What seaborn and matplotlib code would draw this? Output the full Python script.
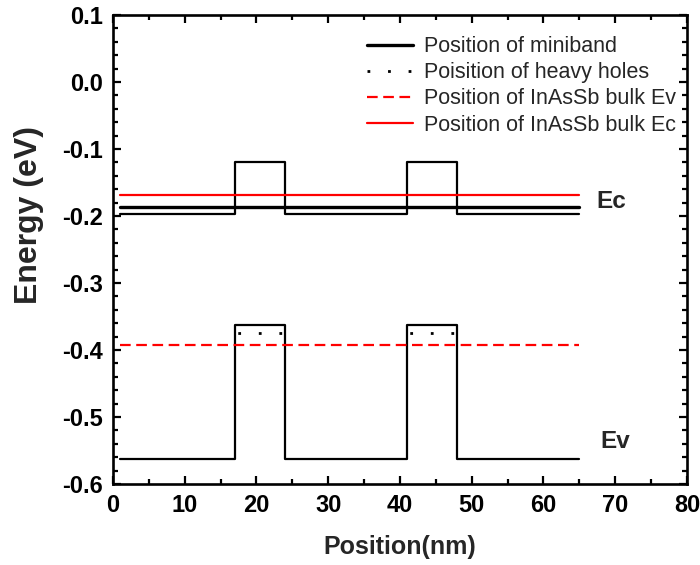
import numpy as np
import pandas as pd
import matplotlib
matplotlib.use("Agg")
import matplotlib.pyplot as plt
from matplotlib.ticker import MultipleLocator, FormatStrFormatter
import seaborn as sns

sns.set_theme(style="ticks")
plt.rcParams["font.family"] = ["Liberation Sans", "DejaVu Sans"]

# Layer boundaries of the superlattice (nm) and band edges per layer (eV)
layer_edges = [1, 17, 24, 41, 48, 65]
ec_profile = [-0.197, -0.119, -0.197, -0.119, -0.197]
ev_profile = [-0.562, -0.362, -0.562, -0.362, -0.562]

# Flat reference levels (eV)
miniband_level = -0.186
heavy_hole_level = -0.375
bulk_ec = -0.169
bulk_ev = -0.392

# Barriers where heavy-hole states are shown
barriers = [(17, 24), (41, 48)]

fig = plt.figure(figsize=(7.0, 5.65), dpi=100)
ax = fig.add_axes([0.1614, 0.1434, 0.82, 0.83])

# Step profiles of the conduction and valence band edges
prof = pd.DataFrame({
    "x": layer_edges,
    "ec": ec_profile + [ec_profile[-1]],
    "ev": ev_profile + [ev_profile[-1]],
})
sns.lineplot(data=prof, x="x", y="ec", ax=ax, color="black", lw=1.6,
             drawstyle="steps-post", estimator=None, sort=False)
sns.lineplot(data=prof, x="x", y="ev", ax=ax, color="black", lw=1.6,
             drawstyle="steps-post", estimator=None, sort=False)

span = [layer_edges[0], layer_edges[-1]]

# Miniband
sns.lineplot(x=span, y=[miniband_level] * 2, ax=ax, color="black", lw=2.4,
             label="Position of miniband")

# Heavy holes in each barrier (dot pattern starts just inside the wall)
dot_style = (-1.0, (1, 6.4))
hh = pd.DataFrame({
    "x": [v for b in barriers for v in b],
    "y": [heavy_hole_level] * (2 * len(barriers)),
    "seg": [i for i, b in enumerate(barriers) for _ in b],
})
sns.lineplot(data=hh, x="x", y="y", units="seg", estimator=None, ax=ax,
             color="black", lw=2.0, linestyle=dot_style)
ax.plot([], [], color="black", lw=2.0, linestyle=(0, (1, 6.4)),
        label="Poisition of heavy holes")

# Bulk InAsSb band edges
sns.lineplot(x=span, y=[bulk_ev] * 2, ax=ax, color="red", lw=1.6,
             linestyle=(0, (4.8, 2.5)), label="Position of InAsSb bulk Ev")
sns.lineplot(x=span, y=[bulk_ec] * 2, ax=ax, color="red", lw=1.6,
             label="Position of InAsSb bulk Ec")

ax.text(67.4, -0.178, "Ec", fontsize=17.5, fontweight="bold", va="center")
ax.text(67.9, -0.537, "Ev", fontsize=17.5, fontweight="bold", va="center")

ax.set_xlim(0, 80)
ax.set_ylim(-0.6, 0.1)
ax.xaxis.set_major_locator(MultipleLocator(10))
ax.xaxis.set_minor_locator(MultipleLocator(5))
ax.yaxis.set_major_locator(MultipleLocator(0.1))
ax.yaxis.set_minor_locator(MultipleLocator(0.02))
ax.yaxis.set_major_formatter(FormatStrFormatter("%.1f"))

for side in ["top", "right", "bottom", "left"]:
    ax.spines[side].set_visible(True)
    ax.spines[side].set_linewidth(1.9)
    ax.spines[side].set_color("black")
ax.tick_params(which="both", direction="in", top=True, right=True,
               width=1.6, colors="black")
ax.tick_params(which="major", length=6, labelsize=17, pad=7)
ax.tick_params(which="minor", length=3.5)
for lbl in ax.get_xticklabels() + ax.get_yticklabels():
    lbl.set_fontweight("bold")

ax.set_xlabel("Position(nm)", fontsize=18, fontweight="bold")
ax.xaxis.set_label_coords(0.5, -0.108)
ax.set_ylabel("Energy (eV)", fontsize=23, fontweight="bold")
ax.yaxis.set_label_coords(-0.121, 0.573)

leg = ax.legend(loc="upper left", frameon=False, fontsize=15.5,
                handlelength=2.15, handletextpad=0.5, labelspacing=0.24,
                borderaxespad=0.0, borderpad=0.0,
                bbox_to_anchor=(0.442, 0.955))

fig.savefig("out.png", dpi=100)
